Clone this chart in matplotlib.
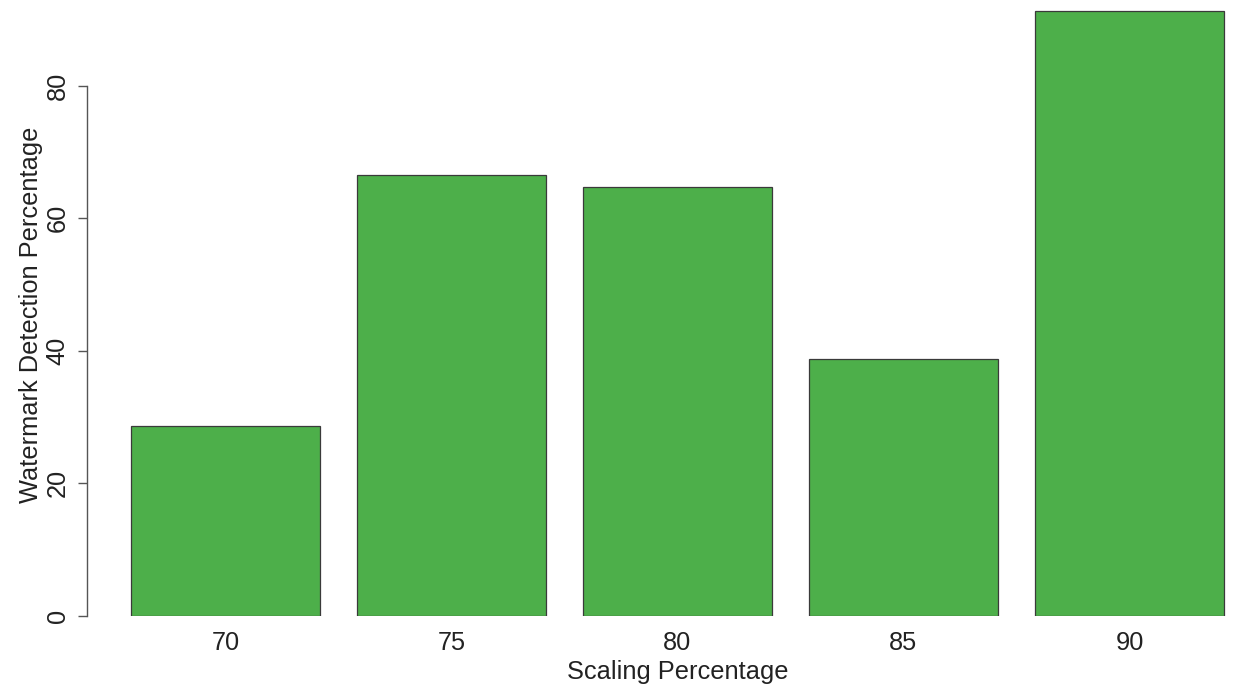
import matplotlib
matplotlib.use("Agg")
import matplotlib.pyplot as plt

categories = ["70", "75", "80", "85", "90"]
values = [28.6, 66.5, 64.7, 38.7, 91.2]
yticks = [0, 20, 40, 60, 80]

plt.rcParams['font.family'] = ['Liberation Sans', 'DejaVu Sans']

W, H = 1238, 693
fig = plt.figure(figsize=(W/100, H/100), dpi=100)
# axes pixel box
L, R, T, B = 87, 1238, 0, 616
ax = fig.add_axes([L/W, (H-B)/H, (R-L)/W, (B-T)/H])

px_per_unit = 226.0
x0 = 225.5
ax.set_xlim((L - x0)/px_per_unit, (R - x0)/px_per_unit)
ppv = 6.631
ax.set_ylim(0, (B - T)/ppv)

xs = list(range(len(categories)))
ax.bar(xs, values, width=189/226, color='#4DAF4A', edgecolor='#3a3a3a', linewidth=0.9)

for s in ['top', 'right', 'bottom']:
    ax.spines[s].set_visible(False)
ax.spines['left'].set_bounds(0, 80)
ax.spines['left'].set_color('#555555')
ax.spines['left'].set_linewidth(1.0)

FS = 18.3
ax.set_yticks(yticks)
ax.set_yticklabels([str(v) for v in yticks], rotation=90, va='center', fontsize=FS, color='#222222')
ax.tick_params(axis='y', length=6.5, width=1.0, color='#555555', pad=6)

ax.set_xticks(xs)
ax.set_xticklabels(categories, fontsize=FS, color='#222222')
ax.tick_params(axis='x', length=0, pad=11)

fig.text(678/W, 1 - 672/H, "Scaling Percentage", ha='center', va='center', fontsize=FS, color='#222222')
fig.text(31/W, 1 - 315/H, "Watermark Detection Percentage", ha='center', va='center', rotation=90, fontsize=FS, color='#222222')

fig.savefig("out.png", dpi=100)
